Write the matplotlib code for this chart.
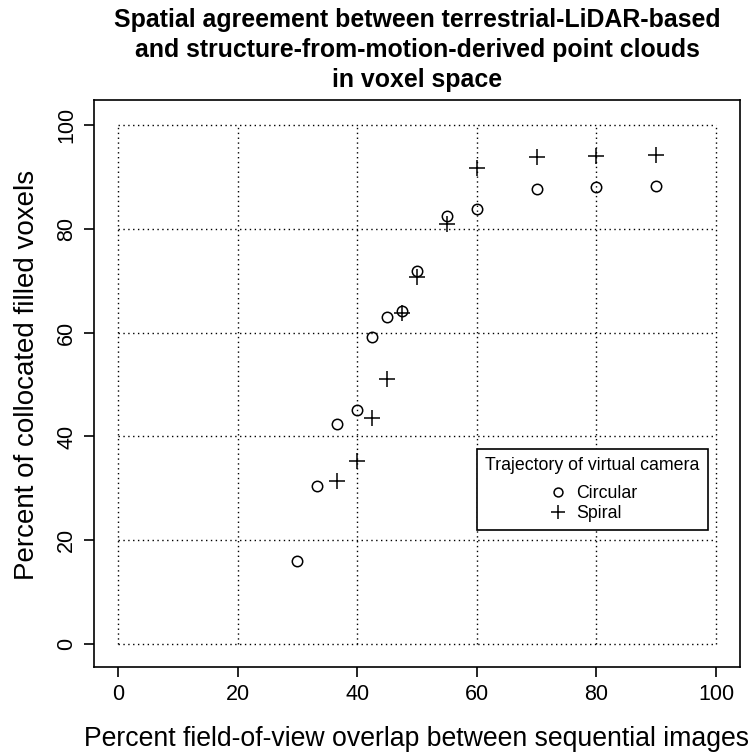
import matplotlib
matplotlib.use("Agg")
import matplotlib.pyplot as plt

plt.rcParams['font.family'] = ['Liberation Sans', 'DejaVu Sans']

# Circular trajectory
circ_x = [30, 33.3, 36.7, 40, 42.5, 45, 47.5, 50, 55, 60, 70, 80, 90]
circ_y = [16.0, 30.4, 42.4, 45.1, 59.2, 63.0, 64.2, 71.9, 82.4, 83.9, 87.6, 88.1, 88.3]
# Spiral trajectory
spir_x = [36.7, 40, 42.5, 45, 47.5, 50, 55, 60, 70, 80, 90]
spir_y = [31.4, 35.3, 43.5, 51.1, 63.8, 70.8, 80.9, 91.7, 93.8, 94.0, 94.2]

ticks = [0, 20, 40, 60, 80, 100]

fig = plt.figure(figsize=(7.56, 7.53), dpi=100)
ax = fig.add_axes([0.1243, 0.1142, 0.8545, 0.753])

# dotted grid only inside 0..100
ax.vlines(ticks, 0, 100, colors="black", linestyles=(0, (1, 2.5)), linewidth=1)
ax.hlines(ticks, 0, 100, colors="black", linestyles=(0, (1, 2.5)), linewidth=1)

ax.plot(circ_x, circ_y, "o", mfc="none", mec="black", ms=7.5, mew=1.1, label="Circular")
ax.plot(spir_x, spir_y, "+", color="black", ms=12, mew=1.1, label="Spiral")

ax.set_xlim(-4, 104)
ax.set_ylim(-4.4, 104.8)
ax.set_xticks(ticks)
ax.set_yticks(ticks)
ax.tick_params(direction="out", length=7, width=1.2, labelsize=15.5, pad=5)
plt.setp(ax.get_yticklabels(), rotation=90, va="center")
for s in ax.spines.values():
    s.set_linewidth(1.2)

ax.set_xlabel("Percent field-of-view overlap between sequential images", fontsize=19.2, labelpad=15)
ax.set_ylabel("Percent of collocated filled voxels", fontsize=20)
ax.yaxis.set_label_coords(-0.083, 0.515)
ax.set_title("Spatial agreement between terrestrial-LiDAR-based\n"
             "and structure-from-motion-derived point clouds\n"
             "in voxel space", fontsize=17.9, fontweight="bold", pad=9, linespacing=1.32)

leg = ax.legend(title="Trajectory of virtual camera", loc="lower right",
                bbox_to_anchor=(0.950, 0.2416), fontsize=12.8, title_fontsize=12.8,
                fancybox=False, edgecolor="black", framealpha=1, handletextpad=0.4,
                handlelength=1.2, borderpad=0.45, labelspacing=0.18, markerscale=0.85,
                borderaxespad=0)
leg._legend_box.sep = 8  # a bit more room under the title
leg.get_frame().set_linewidth(1.2)

fig.savefig("out.png", dpi=100)
